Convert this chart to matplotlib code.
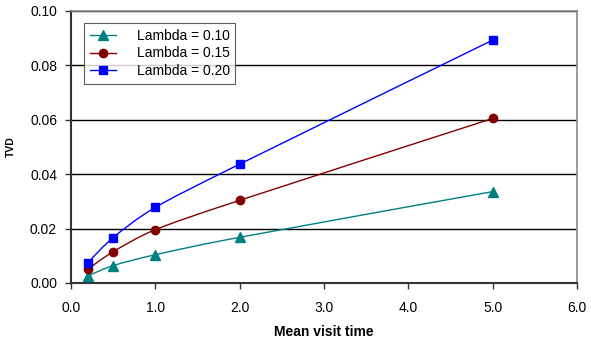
import matplotlib
matplotlib.use("Agg")
import matplotlib.pyplot as plt
import numpy as np
from matplotlib.path import Path
from matplotlib.patches import PathPatch
from matplotlib.lines import Line2D

plt.rcParams['font.family'] = ['Liberation Sans', 'DejaVu Sans']

x_vals = [0.2, 0.5, 1.0, 2.0, 5.0]
series_names = ["Lambda = 0.10", "Lambda = 0.15", "Lambda = 0.20"]
lam010 = [0.0026, 0.0064, 0.0104, 0.0168, 0.0336]
lam015 = [0.0051, 0.0115, 0.0196, 0.0304, 0.0605]
lam020 = [0.0075, 0.0167, 0.0278, 0.0437, 0.0893]
colors = ["#008080", "#800000", "#0000FF"]
markers = ["^", "o", "s"]
msizes = [7, 6, 6]

fig = plt.figure(figsize=(5.91, 3.39), dpi=100)
ax = fig.add_axes([71/591, 1-283/339, (577-71)/591, (283-11)/339])


def smooth_path(xs, ys):
    pts = np.column_stack([xs, ys])
    n = len(pts)
    verts = [pts[0]]
    codes = [Path.MOVETO]
    for i in range(n - 1):
        p0 = pts[i - 1] if i > 0 else pts[i]
        p1 = pts[i]
        p2 = pts[i + 1]
        p3 = pts[i + 2] if i + 2 < n else pts[i + 1]
        c1 = p1 + (p2 - p0) / 7.0
        c2 = p2 - (p3 - p1) / 7.0
        verts += [c1, c2, p2]
        codes += [Path.CURVE4] * 3
    return Path(verts, codes)


handles = []
for ys, name, c, m, ms in zip([lam010, lam015, lam020], series_names, colors, markers, msizes):
    patch = PathPatch(smooth_path(x_vals, ys), facecolor='none', edgecolor=c, lw=1.0, zorder=3)
    ax.add_patch(patch)
    ax.plot(x_vals, ys, linestyle='none', marker=m, color=c, markersize=ms, zorder=4)
    handles.append(Line2D([], [], color=c, lw=1.0, marker=m, markersize=ms, label=name))

ax.set_xlim(0, 6)
ax.set_ylim(0, 0.10)
ax.set_xticks(np.arange(0, 6.01, 1.0))
ax.set_xticklabels([f"{v:.1f}" for v in np.arange(0, 6.01, 1.0)])
ax.set_yticks(np.arange(0, 0.1001, 0.02))
ax.set_yticklabels([f"{v:.2f}" for v in np.arange(0, 0.1001, 0.02)])
ax.yaxis.grid(True, color='black', lw=1.0)
ax.set_axisbelow(True)
ax.tick_params(axis='both', direction='out', length=4, width=1, labelsize=10, color='#333333')
ax.tick_params(axis='x', pad=9)
ax.tick_params(axis='y', pad=6)
for s in ['left', 'bottom']:
    ax.spines[s].set_color('#333333')
    ax.spines[s].set_linewidth(1.5)
for s in ['right', 'top']:
    ax.spines[s].set_color('#888888')
    ax.spines[s].set_linewidth(1.2)

ax.set_xlabel("Mean visit time", fontsize=10, fontweight='bold', labelpad=7)
ax.set_ylabel("TVD", fontsize=7.5, fontweight='bold')
ax.yaxis.set_label_coords((16 - 71) / 506, 0.5)

leg = ax.legend(handles=handles, loc='upper left', bbox_to_anchor=(13/506, 1-12/272),
                fontsize=10, frameon=True, fancybox=False, edgecolor='#333333',
                handlelength=1.9, handletextpad=1.5, borderpad=0.4, labelspacing=0.28,
                borderaxespad=0)
leg.get_frame().set_linewidth(0.8)

fig.savefig("out.png", dpi=100)
